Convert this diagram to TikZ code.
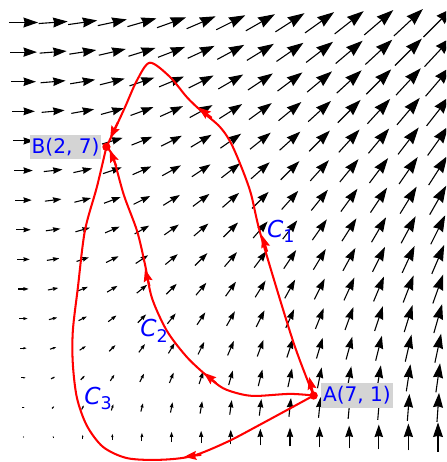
\documentclass[tikz,border=0pt]{standalone}
\usepackage{fontspec}
\newfontfamily\dvsans{DejaVu Sans}
\usetikzlibrary{arrows.meta, positioning}

\newcommand{\curvelbl}[1]{{\itshape C}\raisebox{-3.5pt}{\fontsize{12}{12}\selectfont #1}}

\tikzset{
  vec/.style={line width=0.75pt, black},
  redpath/.style={red, line width=1.4pt},
  rtip/.style={red, line width=1.4pt, -{Stealth[length=8.5pt, width=6pt, inset=1.2pt]}},
  ptdot/.style={circle, fill=red, inner sep=0pt, minimum size=0.2cm},
  ptlbl/.style={fill=black!17, text=blue, inner xsep=1.2pt, inner ysep=2.2pt,
    font=\dvsans\fontsize{13.8}{16}\selectfont},
  crvlbl/.style={text=blue, inner sep=0pt, font=\dvsans\fontsize{16}{18}\selectfont}
}

\begin{document}
\begin{tikzpicture}[>=stealth]
  \clip (-0.567,-0.603) rectangle (10.193,10.543);
  % vector field F = (y, x)
  \foreach \i in {0,...,14}{
    \foreach \j in {0,...,14}{
      \pgfmathsetmacro\xx{\i*10/14}
      \pgfmathsetmacro\yy{\j*10/14}
      \pgfmathsetmacro\vlen{0.07*veclen(\xx,\yy)}
      \pgfmathsetmacro\hdlen{min(11.5,14.2*\vlen)}
      \pgfmathsetmacro\hdwid{0.68*\hdlen}
      \pgfmathsetmacro\hdins{0.08*\hdlen}
      \ifdim\vlen pt<0.01pt
        \fill (\xx,\yy) circle (0.5pt);
      \else
        \draw[vec, -{Stealth[length=\hdlen pt, width=\hdwid pt, inset=\hdins pt]}]
          ({\xx-0.035*\yy},{\yy-0.035*\xx}) -- ({\xx+0.035*\yy},{\yy+0.035*\xx});
      \fi
    }
  }
  % C1
  \draw[redpath] plot[smooth] coordinates {(7,1) (6.50,2.32) (5.73,4.85) (5.46,5.96) (5.05,7.00) (4.74,7.48) (4.26,7.89) (3.94,8.20) (3.53,8.69) (3.05,9.03) (2.74,8.61) (2.45,7.96) (2.16,7.33) (2,7)};
  \draw[rtip] (7,1) -- (6.89,1.45);
  \draw[rtip] (5.88,4.47) -- (5.75,4.87);
  \draw[rtip] (4.54,7.70) -- (4.22,7.95);
  \draw[rtip] (2.27,7.58) -- (2.09,7.20);
  % C2
  \draw[redpath] plot[smooth] coordinates {(7,1) (6.43,1.04) (5.61,0.99) (5.22,1.04) (4.81,1.18) (4.43,1.47) (3.94,1.93) (3.46,2.56) (3.10,3.35) (2.93,4.17) (2.74,4.97) (2.42,5.84) (2.16,6.76) (2,7)};
  \draw[rtip] (4.65,1.30) -- (4.35,1.55);
  \draw[rtip] (3.04,3.64) -- (2.93,4.05);
  \draw[rtip] (2.24,6.53) -- (2.08,6.93);
  % C3
  \draw[redpath] plot[smooth] coordinates {(7,1) (5.71,0.30) (4.91,-0.12) (4.07,-0.46) (3.29,-0.55) (2.50,-0.51) (1.92,-0.24) (1.53,0.27) (1.29,0.94) (1.19,1.76) (1.19,2.56) (1.31,3.59) (1.48,4.97) (1.77,6.03) (2,7)};
  \draw[rtip] (4.29,-0.43) -- (3.87,-0.48);
  % points and labels
  \node[ptdot] (A) at (7,1) {};
  \node[ptdot] (B) at (2,7) {};
  \node[ptlbl, right=0.07 of A] (lblA) {A(7, 1)};
  \node[ptlbl, left=0.01 of B] (lblB) {B(2, 7)};
  \node[crvlbl] (lblC1) at (6.21,4.97) {\curvelbl{1}};
  \node[crvlbl] (lblC2) at (3.15,2.56) {\curvelbl{2}};
  \node[crvlbl] (lblC3) at (1.80,0.94) {\curvelbl{3}};
\end{tikzpicture}
\end{document}
